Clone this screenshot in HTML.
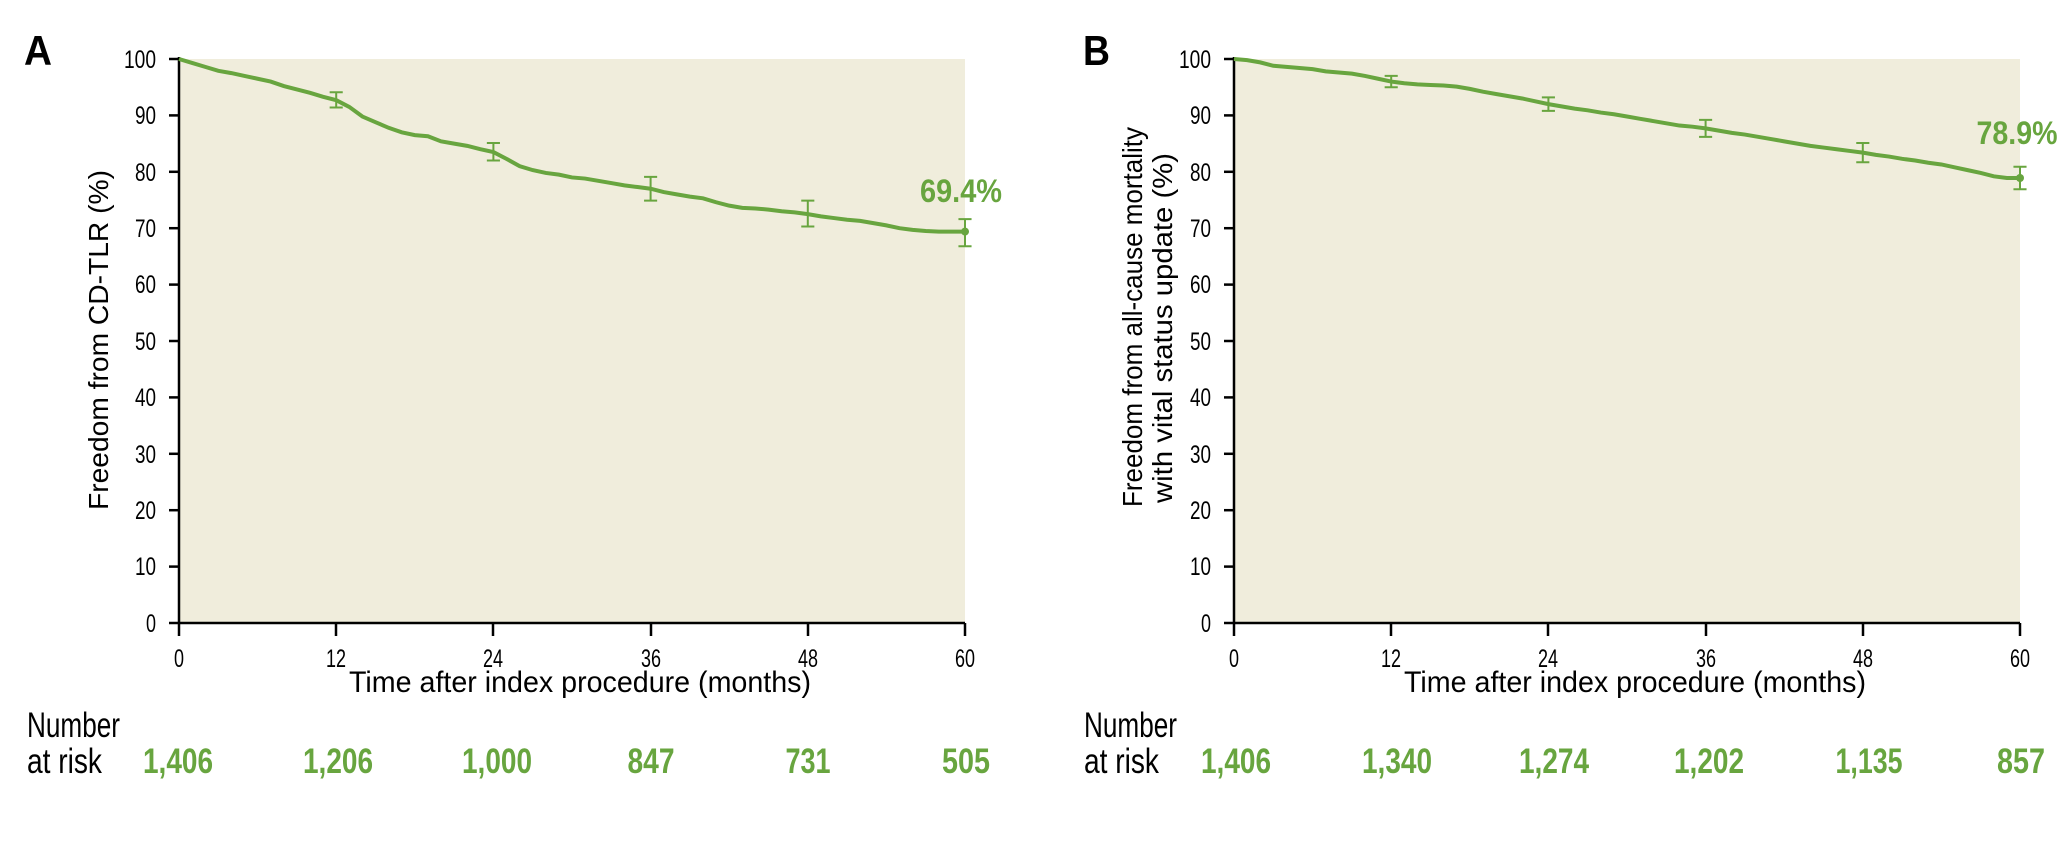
<!DOCTYPE html>
<html><head><meta charset="utf-8">
<style>
html,body{margin:0;padding:0;background:#fff;}
svg{display:block;}
text{font-family:"Liberation Sans",sans-serif;}
</style></head>
<body>
<svg width="2068" height="842" viewBox="0 0 2068 842" xmlns="http://www.w3.org/2000/svg">
<!-- Panel A -->
<text x="24" y="65" font-size="42" font-weight="bold" textLength="28" lengthAdjust="spacingAndGlyphs">A</text>
<rect x="179" y="59" width="786" height="564" fill="#f0eddc"/>
<g stroke="#000" stroke-width="2.5">
<line x1="179" y1="57" x2="179" y2="624"/>
<line x1="178" y1="623" x2="965" y2="623"/>
<line x1="169" y1="59" x2="179" y2="59"/><line x1="169" y1="115.4" x2="179" y2="115.4"/><line x1="169" y1="171.8" x2="179" y2="171.8"/><line x1="169" y1="228.2" x2="179" y2="228.2"/><line x1="169" y1="284.6" x2="179" y2="284.6"/><line x1="169" y1="341" x2="179" y2="341"/><line x1="169" y1="397.4" x2="179" y2="397.4"/><line x1="169" y1="453.8" x2="179" y2="453.8"/><line x1="169" y1="510.2" x2="179" y2="510.2"/><line x1="169" y1="566.6" x2="179" y2="566.6"/><line x1="169" y1="623" x2="179" y2="623"/>
<line x1="179" y1="623" x2="179" y2="636"/><line x1="336" y1="623" x2="336" y2="636"/><line x1="493" y1="623" x2="493" y2="636"/><line x1="651" y1="623" x2="651" y2="636"/><line x1="808" y1="623" x2="808" y2="636"/><line x1="965" y1="623" x2="965" y2="636"/>
</g>
<g font-size="25" text-anchor="end">
<text x="156" y="68" textLength="32" lengthAdjust="spacingAndGlyphs">100</text><text x="156" y="124" textLength="21" lengthAdjust="spacingAndGlyphs">90</text><text x="156" y="181" textLength="21" lengthAdjust="spacingAndGlyphs">80</text><text x="156" y="237" textLength="21" lengthAdjust="spacingAndGlyphs">70</text><text x="156" y="293" textLength="21" lengthAdjust="spacingAndGlyphs">60</text><text x="156" y="350" textLength="21" lengthAdjust="spacingAndGlyphs">50</text><text x="156" y="406" textLength="21" lengthAdjust="spacingAndGlyphs">40</text><text x="156" y="463" textLength="21" lengthAdjust="spacingAndGlyphs">30</text><text x="156" y="519" textLength="21" lengthAdjust="spacingAndGlyphs">20</text><text x="156" y="575" textLength="21" lengthAdjust="spacingAndGlyphs">10</text><text x="156" y="632" textLength="10" lengthAdjust="spacingAndGlyphs">0</text>
</g>
<g font-size="25" text-anchor="middle">
<text x="179" y="667" textLength="10" lengthAdjust="spacingAndGlyphs">0</text><text x="336" y="667" textLength="20" lengthAdjust="spacingAndGlyphs">12</text><text x="493" y="667" textLength="20" lengthAdjust="spacingAndGlyphs">24</text><text x="651" y="667" textLength="20" lengthAdjust="spacingAndGlyphs">36</text><text x="808" y="667" textLength="20" lengthAdjust="spacingAndGlyphs">48</text><text x="965" y="667" textLength="20" lengthAdjust="spacingAndGlyphs">60</text>
</g>
<text x="580" y="692" font-size="30" text-anchor="middle" textLength="462" lengthAdjust="spacingAndGlyphs">Time after index procedure (months)</text>
<text transform="translate(108,340) rotate(-90)" font-size="28" text-anchor="middle" textLength="340" lengthAdjust="spacingAndGlyphs">Freedom from CD-TLR (%)</text>
<g transform="translate(179,623) scale(13.1,-5.64)" fill="none" stroke="#68a53f">
<polyline vector-effect="non-scaling-stroke" stroke-width="4" points="0,100 1,99.3 2,98.6 3,97.9 4,97.5 5,97 6,96.5 7,96 8,95.2 9,94.6 10,94 11,93.3 12,92.7 13,91.5 14,89.8 15,88.8 16,87.8 17,87 18,86.5 19,86.3 20,85.4 21,85 22,84.6 23,84 24,83.5 25,82.3 26,81 27,80.3 28,79.8 29,79.5 30,79 31,78.8 32,78.4 33,78 34,77.6 35,77.3 36,77 37,76.4 38,76 39,75.6 40,75.3 41,74.6 42,74 43,73.6 44,73.5 45,73.3 46,73 47,72.8 48,72.5 49,72.1 50,71.8 51,71.5 52,71.3 53,70.9 54,70.5 55,70 56,69.7 57,69.5 58,69.4 60,69.4"/>
<path vector-effect="non-scaling-stroke" stroke-width="2" d="M12,91.4V94.1M11.5,91.4H12.5M11.5,94.1H12.5"/>
<path vector-effect="non-scaling-stroke" stroke-width="2" d="M24,82V85.1M23.5,82H24.5M23.5,85.1H24.5"/>
<path vector-effect="non-scaling-stroke" stroke-width="2" d="M36,74.9V79.1M35.5,74.9H36.5M35.5,79.1H36.5"/>
<path vector-effect="non-scaling-stroke" stroke-width="2" d="M48,70.3V74.9M47.5,70.3H48.5M47.5,74.9H48.5"/>
<path vector-effect="non-scaling-stroke" stroke-width="2" d="M60,66.8V71.6M59.5,66.8H60.5M59.5,71.6H60.5"/>
</g>
<circle cx="965" cy="231.6" r="4" fill="#68a53f"/>
<text x="961" y="202" font-size="32" font-weight="bold" fill="#68a53f" text-anchor="middle" textLength="82" lengthAdjust="spacingAndGlyphs">69.4%</text>
<text x="27" y="737" font-size="35" textLength="93" lengthAdjust="spacingAndGlyphs">Number</text>
<text x="27" y="773" font-size="35" textLength="75" lengthAdjust="spacingAndGlyphs">at risk</text>
<g font-size="35" font-weight="bold" fill="#68a53f" text-anchor="middle">
<text x="178" y="773" textLength="70" lengthAdjust="spacingAndGlyphs">1,406</text><text x="338" y="773" textLength="70" lengthAdjust="spacingAndGlyphs">1,206</text><text x="497" y="773" textLength="70" lengthAdjust="spacingAndGlyphs">1,000</text><text x="651" y="773" textLength="47" lengthAdjust="spacingAndGlyphs">847</text><text x="808" y="773" textLength="45" lengthAdjust="spacingAndGlyphs">731</text><text x="966" y="773" textLength="48" lengthAdjust="spacingAndGlyphs">505</text>
</g>

<!-- Panel B -->
<text x="1083" y="65" font-size="42" font-weight="bold" textLength="27" lengthAdjust="spacingAndGlyphs">B</text>
<rect x="1234" y="59" width="786" height="564" fill="#f0eddc"/>
<g stroke="#000" stroke-width="2.5">
<line x1="1234" y1="57" x2="1234" y2="624"/>
<line x1="1233" y1="623" x2="2020" y2="623"/>
<line x1="1224" y1="59" x2="1234" y2="59"/><line x1="1224" y1="115.4" x2="1234" y2="115.4"/><line x1="1224" y1="171.8" x2="1234" y2="171.8"/><line x1="1224" y1="228.2" x2="1234" y2="228.2"/><line x1="1224" y1="284.6" x2="1234" y2="284.6"/><line x1="1224" y1="341" x2="1234" y2="341"/><line x1="1224" y1="397.4" x2="1234" y2="397.4"/><line x1="1224" y1="453.8" x2="1234" y2="453.8"/><line x1="1224" y1="510.2" x2="1234" y2="510.2"/><line x1="1224" y1="566.6" x2="1234" y2="566.6"/><line x1="1224" y1="623" x2="1234" y2="623"/>
<line x1="1234" y1="623" x2="1234" y2="636"/><line x1="1391" y1="623" x2="1391" y2="636"/><line x1="1548" y1="623" x2="1548" y2="636"/><line x1="1706" y1="623" x2="1706" y2="636"/><line x1="1863" y1="623" x2="1863" y2="636"/><line x1="2020" y1="623" x2="2020" y2="636"/>
</g>
<g font-size="25" text-anchor="end">
<text x="1211" y="68" textLength="32" lengthAdjust="spacingAndGlyphs">100</text><text x="1211" y="124" textLength="21" lengthAdjust="spacingAndGlyphs">90</text><text x="1211" y="181" textLength="21" lengthAdjust="spacingAndGlyphs">80</text><text x="1211" y="237" textLength="21" lengthAdjust="spacingAndGlyphs">70</text><text x="1211" y="293" textLength="21" lengthAdjust="spacingAndGlyphs">60</text><text x="1211" y="350" textLength="21" lengthAdjust="spacingAndGlyphs">50</text><text x="1211" y="406" textLength="21" lengthAdjust="spacingAndGlyphs">40</text><text x="1211" y="463" textLength="21" lengthAdjust="spacingAndGlyphs">30</text><text x="1211" y="519" textLength="21" lengthAdjust="spacingAndGlyphs">20</text><text x="1211" y="575" textLength="21" lengthAdjust="spacingAndGlyphs">10</text><text x="1211" y="632" textLength="10" lengthAdjust="spacingAndGlyphs">0</text>
</g>
<g font-size="25" text-anchor="middle">
<text x="1234" y="667" textLength="10" lengthAdjust="spacingAndGlyphs">0</text><text x="1391" y="667" textLength="20" lengthAdjust="spacingAndGlyphs">12</text><text x="1548" y="667" textLength="20" lengthAdjust="spacingAndGlyphs">24</text><text x="1706" y="667" textLength="20" lengthAdjust="spacingAndGlyphs">36</text><text x="1863" y="667" textLength="20" lengthAdjust="spacingAndGlyphs">48</text><text x="2020" y="667" textLength="20" lengthAdjust="spacingAndGlyphs">60</text>
</g>
<text x="1635" y="692" font-size="30" text-anchor="middle" textLength="462" lengthAdjust="spacingAndGlyphs">Time after index procedure (months)</text>
<text transform="translate(1142,317) rotate(-90)" font-size="28" text-anchor="middle" textLength="380" lengthAdjust="spacingAndGlyphs">Freedom from all-cause mortality</text>
<text transform="translate(1172,328) rotate(-90)" font-size="28" text-anchor="middle" textLength="350" lengthAdjust="spacingAndGlyphs">with vital status update (%)</text>
<g transform="translate(1234,623) scale(13.1,-5.64)" fill="none" stroke="#68a53f">
<polyline vector-effect="non-scaling-stroke" stroke-width="4" points="0,100 1,99.8 2,99.4 3,98.8 4,98.6 5,98.4 6,98.2 7,97.8 8,97.6 9,97.4 10,97 11,96.5 12,96 13,95.7 14,95.5 15,95.4 16,95.3 17,95.1 18,94.7 19,94.2 20,93.8 21,93.4 22,93 23,92.5 24,92 25,91.6 26,91.2 27,90.9 28,90.5 29,90.2 30,89.8 31,89.4 32,89 33,88.6 34,88.2 35,88 36,87.7 37,87.3 38,86.9 39,86.6 40,86.2 41,85.8 42,85.4 43,85 44,84.6 45,84.3 46,84 47,83.7 48,83.4 49,83 50,82.7 51,82.3 52,82 53,81.6 54,81.3 55,80.8 56,80.3 57,79.8 58,79.2 59,78.9 60,78.9"/>
<path vector-effect="non-scaling-stroke" stroke-width="2" d="M12,95V97M11.5,95H12.5M11.5,97H12.5"/>
<path vector-effect="non-scaling-stroke" stroke-width="2" d="M24,90.8V93.2M23.5,90.8H24.5M23.5,93.2H24.5"/>
<path vector-effect="non-scaling-stroke" stroke-width="2" d="M36,86.2V89.2M35.5,86.2H36.5M35.5,89.2H36.5"/>
<path vector-effect="non-scaling-stroke" stroke-width="2" d="M48,81.7V85.1M47.5,81.7H48.5M47.5,85.1H48.5"/>
<path vector-effect="non-scaling-stroke" stroke-width="2" d="M60,76.9V80.9M59.5,76.9H60.5M59.5,80.9H60.5"/>
</g>
<circle cx="2020" cy="178" r="4" fill="#68a53f"/>
<text x="2017" y="144" font-size="32" font-weight="bold" fill="#68a53f" text-anchor="middle" textLength="81" lengthAdjust="spacingAndGlyphs">78.9%</text>
<text x="1084" y="737" font-size="35" textLength="93" lengthAdjust="spacingAndGlyphs">Number</text>
<text x="1084" y="773" font-size="35" textLength="75" lengthAdjust="spacingAndGlyphs">at risk</text>
<g font-size="35" font-weight="bold" fill="#68a53f" text-anchor="middle">
<text x="1236" y="773" textLength="70" lengthAdjust="spacingAndGlyphs">1,406</text><text x="1397" y="773" textLength="70" lengthAdjust="spacingAndGlyphs">1,340</text><text x="1554" y="773" textLength="70" lengthAdjust="spacingAndGlyphs">1,274</text><text x="1709" y="773" textLength="70" lengthAdjust="spacingAndGlyphs">1,202</text><text x="1869" y="773" textLength="67" lengthAdjust="spacingAndGlyphs">1,135</text><text x="2021" y="773" textLength="48" lengthAdjust="spacingAndGlyphs">857</text>
</g>
</svg>
</body></html>
